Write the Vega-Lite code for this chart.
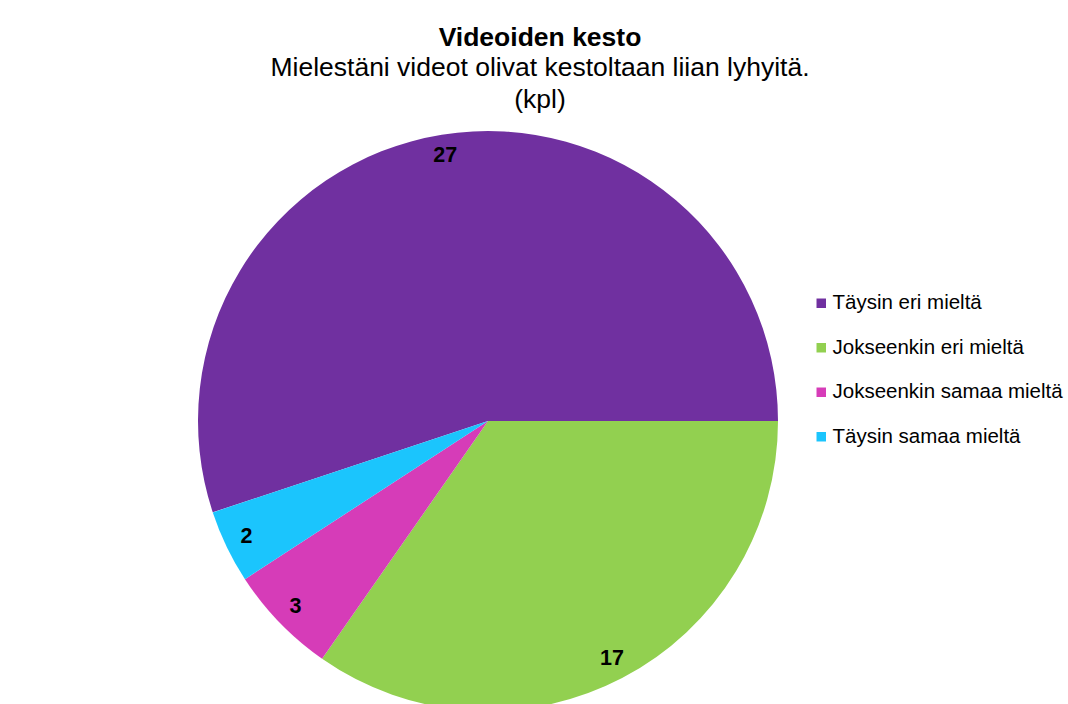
{
  "$schema": "https://vega.github.io/schema/vega-lite/v6.json",
  "width": 976,
  "height": 566,
  "autosize": {"type": "none"},
  "padding": {"left": 0, "top": 138, "right": 92, "bottom": 0},
  "background": "white",
  "config": {
    "view": {"stroke": null},
    "font": "Liberation Sans"
  },
  "title": {
    "text": "Videoiden kesto",
    "subtitle": ["Mielestäni videot olivat kestoltaan liian lyhyitä.", "(kpl)"],
    "anchor": "middle",
    "dx": 52,
    "offset": 18,
    "font": "Liberation Sans",
    "fontSize": 26.5,
    "fontWeight": "bold",
    "color": "black",
    "subtitleFont": "Liberation Sans",
    "subtitleFontSize": 26.5,
    "subtitleColor": "black",
    "subtitleLineHeight": 32,
    "subtitlePadding": 3
  },
  "data": {
    "values": [
      {"vastaus": "Täysin eri mieltä", "kpl": 27, "jarjestys": 1},
      {"vastaus": "Jokseenkin eri mieltä", "kpl": 17, "jarjestys": 2},
      {"vastaus": "Jokseenkin samaa mieltä", "kpl": 3, "jarjestys": 3},
      {"vastaus": "Täysin samaa mieltä", "kpl": 2, "jarjestys": 4}
    ]
  },
  "encoding": {
    "theta": {"field": "kpl", "type": "quantitative", "stack": true, "scale": {"range": [4.392, 10.675]}},
    "order": {"field": "jarjestys", "type": "quantitative", "sort": "ascending"}
  },
  "layer": [
    {
      "mark": {"type": "arc", "outerRadius": 290},
      "encoding": {
        "color": {
          "field": "vastaus",
          "type": "nominal",
          "scale": {
            "domain": ["Täysin eri mieltä", "Jokseenkin eri mieltä", "Jokseenkin samaa mieltä", "Täysin samaa mieltä"],
            "range": ["#7030A0", "#92D050", "#D63CB8", "#1BC5FD"]
          },
          "legend": {
            "title": null,
            "orient": "none",
            "legendX": 811,
            "legendY": 155,
            "symbolType": "square",
            "symbolSize": 90,
            "symbolStrokeWidth": 0,
            "labelFont": "Liberation Sans",
            "labelFontSize": 20.5,
            "labelColor": "black",
            "labelOffset": 1,
            "rowPadding": 23.5,
            "labelLimit": 400
          }
        }
      }
    },
    {
      "mark": {"type": "text", "radius": 268, "font": "Liberation Sans", "fontSize": 21.5, "fontWeight": "bold", "color": "black", "align": "center", "baseline": "middle"},
      "encoding": {
        "text": {"field": "kpl", "type": "quantitative"},
        "detail": {"field": "vastaus", "type": "nominal"}
      }
    }
  ]
}
